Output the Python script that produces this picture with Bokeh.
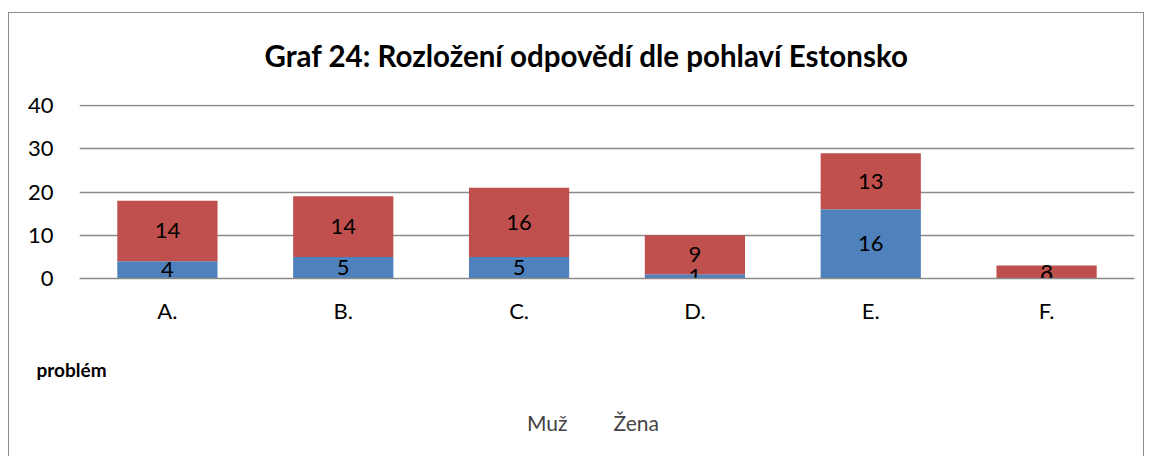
from bokeh.plotting import figure
from bokeh.layouts import column
from bokeh.models import (ColumnDataSource, FactorRange, Range1d, FixedTicker, Legend, LegendItem,
                          Label, CDSView, IndexFilter)
from bokeh.core.properties import value
from bokeh.embed import file_html
from bokeh.resources import INLINE

categories = ["A.", "B.", "C.", "D.", "E.", "F."]
muz = [4, 5, 5, 1, 16, 0]
zena = [14, 14, 16, 9, 13, 3]
series = ["Muž", "Žena"]
colors = ["#4F81BD", "#C0504D"]
y_ticks = [0, 10, 20, 30, 40]
title_text = "Graf 24: Rozložení odpovědí dle pohlaví Estonsko"
x_title = "problém"

FONT = "Lato"
W = 1134


def blank(h):
    f = figure(width=W, height=h, x_range=Range1d(0, W), y_range=Range1d(0, h),
               output_backend="svg", toolbar_location=None, x_axis_type=None, y_axis_type=None,
               min_border=0, min_border_left=0, min_border_right=0,
               min_border_top=0, min_border_bottom=0)
    f.grid.grid_line_color = None
    f.outline_line_color = None
    f.title = None
    try:
        f.frame_align = False
    except Exception:
        pass
    return f


# --- title area ---
TOP_H = 79
p_top = blank(TOP_H)
p_top.add_layout(Label(x=577, y=TOP_H - 42, text=title_text, text_align="center",
                       text_baseline="middle", text_font=FONT, text_font_style="bold",
                       text_font_size="29.5px", text_color="black"))

# --- main chart ---
src = ColumnDataSource(dict(cat=categories, Muž=muz, Žena=zena,
                            muz_mid=[m / 2 for m in muz],
                            zena_mid=[m + z / 2 for m, z in zip(muz, zena)],
                            muz_txt=[str(v) for v in muz],
                            zena_txt=[str(v) for v in zena]))

p = figure(frame_width=1055, frame_height=174, x_range=FactorRange(*categories, range_padding=0),
           y_range=Range1d(0, 40.25), output_backend="svg", toolbar_location=None,
           min_border_left=70, min_border_right=9, min_border_top=12, min_border_bottom=52)
p.outline_line_color = None
p.title = None

p.vbar_stack(series, x="cat", width=0.57, source=src, color=colors, line_color=None)

p.text(x="cat", y="muz_mid", text="muz_txt", source=src, text_align="center",
       text_baseline="middle", text_font=value(FONT), text_font_size="22px", text_color="black")
p.text(x="cat", y="zena_mid", text="zena_txt", source=src, text_align="center",
       text_baseline="middle", text_font=value(FONT), text_font_size="22px", text_color="black")

p.xgrid.grid_line_color = None
p.ygrid.grid_line_color = "#8a8a8a"
p.ygrid.grid_line_width = 1.5
p.yaxis.ticker = FixedTicker(ticks=y_ticks)
p.yaxis.axis_line_color = None
p.yaxis.major_tick_line_color = None
p.yaxis.minor_tick_line_color = None
p.yaxis.major_tick_out = 0
p.yaxis.major_tick_in = 0
p.yaxis.major_label_text_font = FONT
p.yaxis.major_label_text_font_size = "22px"
p.yaxis.major_label_text_color = "black"
p.yaxis.major_label_standoff = 26

p.xaxis.axis_line_color = "#8a8a8a"
p.xaxis.axis_line_width = 1.5
p.xaxis.major_tick_line_color = None
p.xaxis.minor_tick_line_color = None
p.xaxis.major_tick_out = 0
p.xaxis.major_tick_in = 0
p.xaxis.major_label_text_font = FONT
p.xaxis.major_label_text_font_size = "22px"
p.xaxis.major_label_text_color = "black"
p.xaxis.major_label_standoff = 18

# --- axis title + legend area ---
BOT_H = 126
p_bot = blank(BOT_H)
p_bot.add_layout(Label(x=27, y=BOT_H - 39, text=x_title, text_align="left",
                       text_baseline="middle", text_font=FONT, text_font_style="bold",
                       text_font_size="19px", text_color="black"))
leg_src = ColumnDataSource(dict(x=list(range(len(categories))), Muž=muz, Žena=zena))
swatches = [p_bot.vbar(x="x", top=s, width=1, source=leg_src, fill_color=c, line_color=None,
                       view=CDSView(filter=IndexFilter(indices=[])))
            for s, c in zip(series, colors)]
legend = Legend(items=[LegendItem(label=s, renderers=[rr]) for s, rr in zip(series, swatches)],
                orientation="horizontal", location=(500, BOT_H - 105), background_fill_alpha=0,
                border_line_color=None, label_text_font=FONT, label_text_font_size="21px",
                glyph_width=14, glyph_height=14, label_standoff=4, spacing=28, padding=2, margin=0)
p_bot.add_layout(legend, "center")

layout = column(p_top, p, p_bot, spacing=0,
                styles={"border-left": "1px solid #8c8c8c", "border-top": "1px solid #8c8c8c",
                        "border-right": "1px solid #8c8c8c", "margin-left": "8px",
                        "margin-top": "12px"})

open("out.html", "w").write(file_html(layout, INLINE))
